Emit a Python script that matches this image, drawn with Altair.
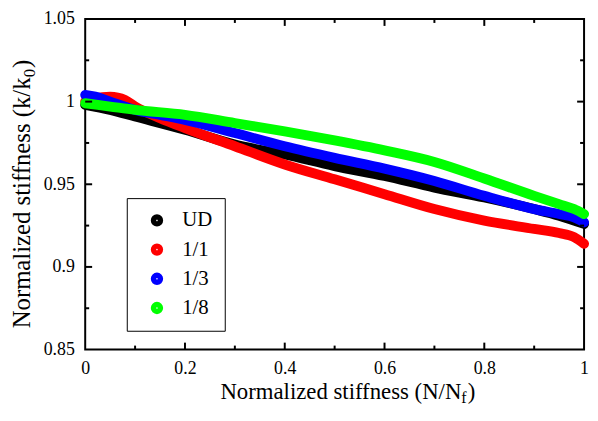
import altair as alt
import pandas as pd

# ---- data ----
series_names = ["UD", "1/1", "1/3", "1/8"]
series_colors = ["#000000", "#ff0000", "#0000ff", "#00ff00"]

x_ud = [0, 0.05, 0.1, 0.2, 0.3, 0.4, 0.5, 0.6, 0.7, 0.8, 0.9, 0.95, 1.0]
y_ud = [0.998, 0.995, 0.991, 0.983, 0.974, 0.968, 0.961, 0.955, 0.948, 0.942, 0.935, 0.931, 0.926]

x_11 = [0, 0.02, 0.05, 0.08, 0.1, 0.15, 0.2, 0.3, 0.4, 0.5, 0.6, 0.7, 0.8, 0.9, 0.95, 0.98, 1.0]
y_11 = [1.000, 1.002, 1.003, 1.001, 0.997, 0.990, 0.984, 0.973, 0.962, 0.953, 0.944, 0.935, 0.928, 0.923, 0.9205, 0.918, 0.914]

x_13 = [0, 0.02, 0.05, 0.1, 0.15, 0.2, 0.3, 0.4, 0.5, 0.6, 0.7, 0.8, 0.9, 0.95, 0.98, 1.0]
y_13 = [1.004, 1.003, 1.000, 0.995, 0.992, 0.989, 0.981, 0.973, 0.966, 0.9595, 0.952, 0.943, 0.935, 0.932, 0.930, 0.927]

x_18 = [0, 0.05, 0.1, 0.2, 0.3, 0.4, 0.5, 0.6, 0.7, 0.8, 0.9, 0.95, 0.98, 1.0]
y_18 = [0.999, 0.997, 0.995, 0.992, 0.987, 0.982, 0.9765, 0.9705, 0.9635, 0.9535, 0.943, 0.938, 0.935, 0.932]

x_labels = [0, 0.2, 0.4, 0.6, 0.8, 1.0]
y_labels = [0.85, 0.9, 0.95, 1.0, 1.05]
x_major = [0.2, 0.4, 0.6, 0.8]
x_minor = [0.1, 0.3, 0.5, 0.7, 0.9]
y_major = [0.9, 0.95, 1.0]
y_minor = [0.875, 0.925, 0.975, 1.025]

x_title = "Normalized stiffness (N/N"
x_title_sub = "f"
y_title = "Normalized stiffness (k/k"
y_title_sub = "0"

# ---- build table ----
rows = []
for name, xs, ys in zip(series_names, [x_ud, x_11, x_13, x_18], [y_ud, y_11, y_13, y_18]):
    for xv, yv in zip(xs, ys):
        rows.append({"series": name, "x": xv, "y": yv})
df = pd.DataFrame(rows)

W, H = 504, 334
FONT = "Liberation Serif, Times New Roman, serif"

xscale = alt.Scale(domain=[0, 1], nice=False, zero=False)
yscale = alt.Scale(domain=[0.85, 1.05], nice=False, zero=False)

lines = alt.Chart(df).mark_line(
    strokeWidth=10, strokeCap="round", strokeJoin="round", interpolate="monotone"
).encode(
    x=alt.X("x:Q", scale=xscale, title=None,
            axis=alt.Axis(values=x_labels, format="~g", ticks=False, tickSize=0, domain=False,
                          grid=False, labelFont=FONT, labelFontSize=18, labelColor="black",
                          labelPadding=10, labelFlush=False)),
    y=alt.Y("y:Q", scale=yscale, title=None,
            axis=alt.Axis(values=y_labels, format="~g", ticks=False, tickSize=0, domain=False,
                          grid=False, labelFont=FONT, labelFontSize=18, labelColor="black",
                          labelPadding=11)),
    color=alt.Color("series:N", title=None,
                    scale=alt.Scale(domain=series_names, range=series_colors),
                    legend=alt.Legend(orient="none", legendX=42, legendY=181,
                                      symbolType="circle", symbolSize=30, symbolStrokeWidth=7,
                                      symbolOffset=8,
                                      labelFont=FONT, labelFontSize=21, labelColor="black",
                                      padding=12, rowPadding=7.5, labelOffset=15, clipHeight=21,
                                      strokeColor="black", fillColor="white")),
)

def xticks(vals, length, top):
    c = alt.Chart(pd.DataFrame({"x": vals})).mark_rule(color="black", strokeWidth=2)
    if top:
        return c.encode(x=alt.X("x:Q", scale=xscale), y=alt.value(0), y2=alt.value(length))
    return c.encode(x=alt.X("x:Q", scale=xscale), y=alt.value(H), y2=alt.value(H - length))

def yticks(vals, length, right):
    c = alt.Chart(pd.DataFrame({"y": vals})).mark_rule(color="black", strokeWidth=2)
    if right:
        return c.encode(y=alt.Y("y:Q", scale=yscale), x=alt.value(W), x2=alt.value(W - length))
    return c.encode(y=alt.Y("y:Q", scale=yscale), x=alt.value(0), x2=alt.value(length))

ticks = [
    xticks(x_major, 7, False), xticks(x_major, 7, True),
    xticks(x_minor, 4, False), xticks(x_minor, 4, True),
    yticks(y_major, 7, False), yticks(y_major, 7, True),
    yticks(y_minor, 4, False), yticks(y_minor, 4, True),
]

one = pd.DataFrame({"k": [0]})
XA, XB = 380, 384
YA, YB = 59, -56
texts = [
    alt.Chart(one).mark_text(text=x_title, align="right", baseline="alphabetic", font=FONT,
                             fontSize=23, color="black").encode(x=alt.value(XA), y=alt.value(XB)),
    alt.Chart(one).mark_text(text=x_title_sub, align="left", baseline="alphabetic", font=FONT,
                             fontSize=16, dy=4, color="black").encode(x=alt.value(XA), y=alt.value(XB)),
    alt.Chart(one).mark_text(text=")", align="left", baseline="alphabetic", font=FONT,
                             fontSize=23, dx=6.5, color="black").encode(x=alt.value(XA), y=alt.value(XB)),
    alt.Chart(one).mark_text(text=y_title, align="right", baseline="alphabetic", font=FONT,
                             fontSize=25, angle=270, color="black").encode(x=alt.value(YB), y=alt.value(YA)),
    alt.Chart(one).mark_text(text=y_title_sub, align="left", baseline="alphabetic", font=FONT,
                             fontSize=17, angle=270, dy=5, color="black").encode(x=alt.value(YB), y=alt.value(YA)),
    alt.Chart(one).mark_text(text=")", align="left", baseline="alphabetic", font=FONT,
                             fontSize=25, angle=270, dx=9.5, color="black").encode(x=alt.value(YB), y=alt.value(YA)),
]

chart = alt.layer(lines, *ticks, *texts).properties(
    width=W, height=H,
    autosize=alt.AutoSizeParams(type="none"),
    padding={"left": 78, "top": 9, "right": 6, "bottom": 62},
    background="white",
).configure_view(stroke="black", strokeWidth=2)

chart.save("out.html", embed_options={"renderer": "svg", "actions": False})
